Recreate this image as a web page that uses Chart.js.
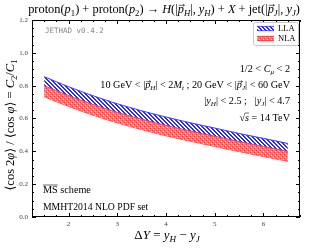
<!DOCTYPE html>
<html><head><meta charset="utf-8">
<script src="https://cdn.jsdelivr.net/npm/chart.js@4.4.1/dist/chart.umd.min.js"></script>
<style>html,body{margin:0;padding:0;background:#fff;overflow:hidden}#wrap{width:310px;height:248px}</style>
</head><body><div id="wrap"><canvas id="c" width="310" height="248"></canvas></div>
<script>
// ---- data ----
const deltaY   = [1.5, 2.0, 2.5, 3.0, 3.5, 4.0, 4.5, 5.0, 5.5, 6.0, 6.5];
const llaUpper = [0.855, 0.794, 0.739, 0.690, 0.647, 0.609, 0.574, 0.542, 0.509, 0.479, 0.448];
const llaLower = [0.770, 0.712, 0.659, 0.613, 0.572, 0.535, 0.502, 0.471, 0.440, 0.411, 0.382];
const nlaUpper = [0.800, 0.740, 0.686, 0.638, 0.596, 0.558, 0.524, 0.492, 0.460, 0.430, 0.400];
const nlaLower = [0.733, 0.674, 0.621, 0.574, 0.533, 0.495, 0.462, 0.430, 0.399, 0.369, 0.340];
const xTicks = [2, 3, 4, 5, 6];
const yTicks = [0.0, 0.2, 0.4, 0.6, 0.8, 1.0, 1.2];
const seriesNames = ['LLA', 'NLA'];

const SERIF2 = '"Liberation Serif", "DejaVu Serif", serif';
const MONO = '"DejaVu Sans Mono", "Liberation Mono", monospace';

function makePattern(kind) {
  const c = document.createElement('canvas');
  c.width = 4; c.height = 4;
  const g = c.getContext('2d');
  if (kind === 'blue') {
    g.fillStyle = '#ffffff'; g.fillRect(0, 0, 4, 4);
    g.fillStyle = 'rgb(40,40,250)';
    for (let i = 0; i < 4; i++) { g.fillRect(i, i, 1, 1); g.fillRect(i, (i + 1) % 4, 1, 1); }
  } else {
    g.fillStyle = 'rgb(250,120,120)'; g.fillRect(0, 0, 4, 4);
    g.fillStyle = 'rgb(255,225,225)';
    g.fillRect(1, 1, 1, 1); g.fillRect(3, 3, 1, 1);
    g.fillStyle = 'rgb(235,60,60)';
    g.fillRect(0, 2, 1, 1); g.fillRect(2, 0, 1, 1);
  }
  return g.createPattern(c, 'repeat');
}
const ctx0 = document.getElementById('c').getContext('2d');
const bluePat = makePattern('blue');
const redPat = makePattern('red');
const BLUE = 'rgb(60,60,255)';
const RED = 'rgb(240,60,60)';

const pts = arr => deltaY.map((x, i) => ({x, y: arr[i]}));

// rich text: style flags i=italic, s=subscript, v=vector arrow, o=overline
function richMeasure(ctx, parts, size, fam) {
  let w = 0; const segs = [];
  for (const [t, st] of parts) {
    const sub = st.includes('s');
    const fs = sub ? size * 0.7 : size;
    const font = (st.includes('i') ? 'italic ' : '') + fs + 'px ' + fam;
    ctx.font = font;
    const mw = ctx.measureText(t).width;
    segs.push({t, st, fs, font, w: mw});
    w += mw;
  }
  return {w, segs};
}
function drawRich(ctx, parts, x, y, size, align, fam) {
  fam = fam || SERIF2;
  const m = richMeasure(ctx, parts, size, fam);
  let cx = align === 'right' ? x - m.w : align === 'center' ? x - m.w / 2 : x;
  ctx.textBaseline = 'alphabetic'; ctx.textAlign = 'left';
  for (const s of m.segs) {
    ctx.font = s.font;
    const dy = s.st.includes('s') ? size * 0.22 : 0;
    ctx.fillText(s.t, cx, y + dy);
    if (s.st.includes('v')) {
      const ay = y - size * 0.62;
      ctx.save(); ctx.lineWidth = 0.6; ctx.strokeStyle = ctx.fillStyle;
      ctx.beginPath(); ctx.moveTo(cx + 1, ay); ctx.lineTo(cx + s.w + 0.5, ay);
      ctx.moveTo(cx + s.w - 1, ay - 1.2); ctx.lineTo(cx + s.w + 0.5, ay); ctx.lineTo(cx + s.w - 1, ay + 1.2);
      ctx.stroke(); ctx.restore();
    }
    if (s.st.includes('o')) {
      const oy = y - size * 0.78;
      ctx.save(); ctx.lineWidth = 0.6; ctx.strokeStyle = ctx.fillStyle;
      ctx.beginPath(); ctx.moveTo(cx, oy); ctx.lineTo(cx + s.w, oy); ctx.stroke(); ctx.restore();
    }
    cx += s.w;
  }
  return m.w;
}
function fitSize(ctx, parts, target, base, fam) {
  const m = richMeasure(ctx, parts, base, fam || SERIF2);
  return base * target / m.w;
}

const decor = {
  id: 'decor',
  afterDraw(chart) {
    const {ctx, chartArea: a, scales: {x, y}} = chart;
    ctx.save();
    // frame
    ctx.strokeStyle = '#000'; ctx.lineWidth = 1;
    ctx.strokeRect(Math.round(a.left) + 0.5, Math.round(a.top) + 0.5,
                   Math.round(a.right - a.left) - 1, Math.round(a.bottom - a.top) - 1);
    // inner ticks on all sides
    ctx.beginPath();
    const xMin = x.min, xMax = x.max;
    for (let k = Math.ceil(xMin * 4); k <= Math.floor(xMax * 4); k++) {
      const v = k / 4;
      const major = Math.abs(v - Math.round(v)) < 1e-9;
      const L = major ? 4 : 2;
      const px = Math.round(x.getPixelForValue(v)) + 0.5;
      ctx.moveTo(px, a.bottom); ctx.lineTo(px, a.bottom - L);
      ctx.moveTo(px, a.top); ctx.lineTo(px, a.top + L);
    }
    for (let k = 0; k <= 24; k++) {
      const v = k * 0.05;
      const major = k % 4 === 0;
      const L = major ? 4 : 2;
      const py = Math.round(y.getPixelForValue(v)) + 0.5;
      ctx.moveTo(a.left, py); ctx.lineTo(a.left + L, py);
      ctx.moveTo(a.right, py); ctx.lineTo(a.right - L, py);
    }
    ctx.stroke();

    // title
    ctx.fillStyle = '#000';
    const title = [['proton(', ''], ['p', 'i'], ['1', 's'], [') + proton(', ''], ['p', 'i'], ['2', 's'],
      [') \u2192 ', ''], ['H', 'i'], ['(|', ''], ['p', 'iv'], ['H', 'is'], ['|, ', ''], ['y', 'i'], ['H', 'is'],
      [') + ', ''], ['X', 'i'], [' + jet(|', ''], ['p', 'iv'], ['J', 'is'], ['|, ', ''], ['y', 'i'], ['J', 'is'], [')', '']];
    const ts = fitSize(ctx, title, 272, 11);
    drawRich(ctx, title, 164, 13, ts, 'center');

    // x axis title
    const xt = [['\u0394', ''], ['Y', 'i'], [' = ', ''], ['y', 'i'], ['H', 'is'], [' \u2212 ', ''], ['y', 'i'], ['J', 'is']];
    drawRich(ctx, xt, (a.left + a.right) / 2 + 1, 239, 13, 'center');

    // y axis title (rotated)
    const yt = [['\u27E8cos 2', ''], ['\u03C6', 'i'], ['\u27E9 / \u27E8cos ', ''], ['\u03C6', 'i'], ['\u27E9 = ', ''],
      ['C', 'i'], ['2', 's'], ['/', ''], ['C', 'i'], ['1', 's']];
    ctx.save(); ctx.translate(14, 125); ctx.rotate(-Math.PI / 2);
    drawRich(ctx, yt, 0, 0, 12.5, 'center');
    ctx.restore();

    // JETHAD label
    ctx.fillStyle = '#8a8a8a'; ctx.font = '7.5px ' + MONO; ctx.textBaseline = 'middle'; ctx.textAlign = 'left';
    ctx.fillText('JETHAD v0.4.2', 45, 31);

    // annotations (right aligned)
    ctx.fillStyle = '#000';
    const l2 = [['10 GeV < |', ''], ['p', 'iv'], ['H', 'is'], ['| < 2', ''], ['M', 'i'], ['t', 'is'],
      [' ; 20 GeV < |', ''], ['p', 'iv'], ['J', 'is'], ['| < 60 GeV', '']];
    const as = fitSize(ctx, l2, 190, 10);
    const RX = 290;
    drawRich(ctx, [['1/2 < ', ''], ['C', 'i'], ['\u03BC', 'is'], [' < 2', '']], RX, 72, as, 'right');
    drawRich(ctx, l2, RX, 88, as, 'right');
    drawRich(ctx, [['|', ''], ['y', 'i'], ['H', 'is'], ['| < 2.5 ;   |', ''], ['y', 'i'], ['J', 'is'], ['| < 4.7', '']], RX, 104, as, 'right');
    drawRich(ctx, [['\u221A', ''], ['s', 'io'], [' = 14 TeV', '']], RX, 121, as, 'right');

    drawRich(ctx, [['MS', 'o'], [' scheme', '']], 43, 193, as, 'left');
    drawRich(ctx, [['MMHT2014 NLO PDF set', '']], 43, 210, as * 0.95, 'left');

    // legend
    const bx = 253, by = 22, bw = 45, bh = 23;
    ctx.fillStyle = '#fff'; ctx.strokeStyle = '#c8c8c8'; ctx.lineWidth = 1;
    ctx.beginPath(); ctx.roundRect(bx + 0.5, by + 0.5, bw, bh, 2); ctx.fill(); ctx.stroke();
    const pats = [bluePat, redPat], cols = [BLUE, RED];
    for (let i = 0; i < 2; i++) {
      const sy = by + 4 + i * 10;
      ctx.fillStyle = pats[i]; ctx.fillRect(bx + 4, sy, 17, 5);
      ctx.strokeStyle = cols[i]; ctx.lineWidth = 0.8;
      ctx.beginPath(); ctx.moveTo(bx + 4, sy + 0.4); ctx.lineTo(bx + 21, sy + 0.4);
      ctx.moveTo(bx + 4, sy + 4.6); ctx.lineTo(bx + 21, sy + 4.6); ctx.stroke();
      ctx.fillStyle = '#000';
      drawRich(ctx, [[seriesNames[i], '']], bx + 25, sy + 5, 8.5, 'left');
    }
    ctx.restore();
  }
};

new Chart(ctx0, {
  type: 'line',
  data: {
    datasets: [
      {label: 'NLA', data: pts(nlaUpper), borderColor: RED, borderWidth: 1, backgroundColor: redPat, fill: '+1', order: 0, pointRadius: 0, tension: 0.3},
      {label: 'NLA lo', data: pts(nlaLower), borderColor: RED, borderWidth: 1, fill: false, order: 0, pointRadius: 0, tension: 0.3},
      {label: 'LLA', data: pts(llaUpper), borderColor: BLUE, borderWidth: 1, backgroundColor: bluePat, fill: '+1', order: 1, pointRadius: 0, tension: 0.3},
      {label: 'LLA lo', data: pts(llaLower), borderColor: BLUE, borderWidth: 1, fill: false, order: 1, pointRadius: 0, tension: 0.3}
    ]
  },
  options: {
    responsive: false, animation: false, devicePixelRatio: 1,
    layout: {padding: {top: 20, right: 10, left: 0, bottom: 0}},
    plugins: {legend: {display: false}, tooltip: {enabled: false}, title: {display: false}},
    scales: {
      x: {
        type: 'linear', min: 1.25, max: 6.75,
        grid: {display: false, drawTicks: false}, border: {display: false},
        afterBuildTicks: s => { s.ticks = xTicks.map(v => ({value: v})); },
        afterFit: s => { s.height = 31; },
        ticks: {font: {family: SERIF2, size: 7}, color: '#444', padding: 3, maxRotation: 0, callback: v => String(v)}
      },
      y: {
        type: 'linear', min: 0, max: 1.2,
        grid: {display: false, drawTicks: false}, border: {display: false},
        afterBuildTicks: s => { s.ticks = yTicks.map(v => ({value: v})); },
        afterFit: s => { s.width = 32; },
        ticks: {font: {family: SERIF2, size: 7}, color: '#444', padding: 4, callback: v => Number(v).toFixed(1)}
      }
    }
  },
  plugins: [decor]
});
</script>
</body></html>
